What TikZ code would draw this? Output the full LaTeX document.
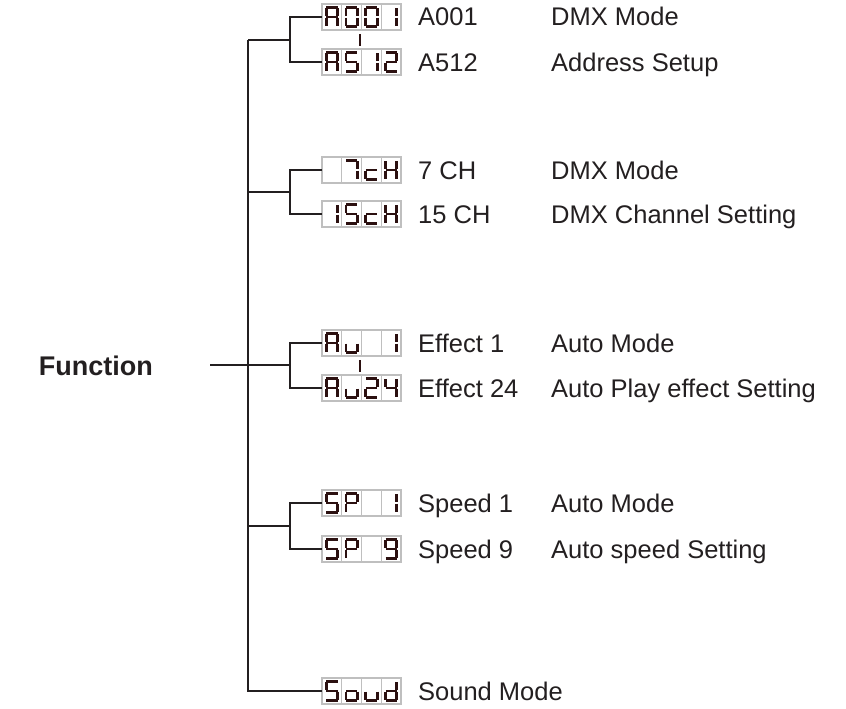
\documentclass[tikz,border=0pt]{standalone}
\usepackage{fontspec}
\setmainfont{Liberation Sans}
\definecolor{segc}{HTML}{2B1010}
\definecolor{txt}{HTML}{231F20}
\tikzset{
  conn/.style={draw=txt, line width=1.3pt},
  disp/.style={minimum width=79pt, minimum height=26pt, inner sep=0pt, outer sep=0pt},
  cellbox/.style={draw=black!25, line width=1.3pt},
  segline/.style={draw=segc, line width=2.9pt},
  lbl/.style={anchor=base west, font=\fontsize{25.5}{30}\selectfont, inner sep=0pt, text=txt},
}
\newcommand\sga{\draw[segline] (4.3,3.6)--(15.5,3.6);}
\newcommand\sgb{\draw[segline] (15.6,4.2)--(15.6,12.4);}
\newcommand\sgc{\draw[segline] (15.6,13.6)--(15.6,21.8);}
\newcommand\sgd{\draw[segline] (4.3,22.4)--(15.5,22.4);}
\newcommand\sge{\draw[segline] (4.2,13.6)--(4.2,21.8);}
\newcommand\sgf{\draw[segline] (4.2,4.2)--(4.2,12.4);}
\newcommand\sgg{\draw[segline] (4.3,13)--(15.5,13);}
\newcommand\sgz{}
\newcommand\dcell[2]{\begin{scope}[shift={(#1*19.75,0)}]
  \draw[cellbox] (0,0) rectangle (19.75,26);
  \foreach \s in {#2}{\csname sg\s\endcsname}
\end{scope}}
\newcommand\showdisp[5]{\begin{scope}[shift={(#1.north west)}]
  \dcell{0}{#2}\dcell{1}{#3}\dcell{2}{#4}\dcell{3}{#5}
\end{scope}}
\begin{document}
\begin{tikzpicture}[x=1pt,y=-1pt]
\useasboundingbox (0,0) rectangle (846,709);

% displays
\node[disp] (d1) at (361.5,17) {};
\node[disp] (d2) at (361.5,62) {};
\node[disp] (d3) at (361.5,170) {};
\node[disp] (d4) at (361.5,214) {};
\node[disp] (d5) at (361.5,343) {};
\node[disp] (d6) at (361.5,388) {};
\node[disp] (d7) at (361.5,503) {};
\node[disp] (d8) at (361.5,549) {};
\node[disp] (d9) at (361.5,691) {};

\showdisp{d1}{a,b,c,e,f,g}{a,b,c,d,e,f}{a,b,c,d,e,f}{b,c}
\showdisp{d2}{a,b,c,e,f,g}{a,f,g,c,d}{b,c}{a,b,g,e,d}
\showdisp{d3}{z}{a,b,c}{g,e,d}{b,c,e,f,g}
\showdisp{d4}{b,c}{a,f,g,c,d}{g,e,d}{b,c,e,f,g}
\showdisp{d5}{a,b,c,e,f,g}{c,d,e}{z}{b,c}
\showdisp{d6}{a,b,c,e,f,g}{c,d,e}{a,b,g,e,d}{b,c,f,g}
\showdisp{d7}{a,f,g,c,d}{a,b,e,f,g}{z}{b,c}
\showdisp{d8}{a,f,g,c,d}{a,b,e,f,g}{z}{a,b,c,d,f,g}
\showdisp{d9}{a,f,g,c,d}{c,d,e,g}{c,d,e}{b,c,d,e,g}

% ticks between displays
\draw[segline] (360,34) -- (360,46);
\draw[segline] (360,360) -- (360,372);

% function label
\node[anchor=base east, font=\bfseries\fontsize{27}{32}\selectfont, inner sep=0pt, text=txt] (fn) at (153,375) {Function};

% junctions
\coordinate (fs) at (210,365);
\coordinate (t1) at (248,40);
\coordinate (t2) at (248,192);
\coordinate (t4) at (248,526);
\coordinate (g1) at (290,40);
\coordinate (g2) at (290,192);
\coordinate (g3) at (290,365);
\coordinate (g4) at (290,526);

\draw[conn] (t1) |- (d9.west);
\draw[conn] (fs) -- (g3);
\draw[conn] (t1) -- (g1);
\draw[conn] (t2) -- (g2);
\draw[conn] (t4) -- (g4);
\draw[conn] (d1.west) -| (g1) |- (d2.west);
\draw[conn] (d3.west) -| (g2) |- (d4.west);
\draw[conn] (d5.west) -| (g3) |- (d6.west);
\draw[conn] (d7.west) -| (g4) |- (d8.west);

% labels
\node[lbl] (a1) at (418,26) {A001};
\node[lbl] (a2) at (418,71) {A512};
\node[lbl] (a3) at (418,179) {7 CH};
\node[lbl] (a4) at (418,223) {15 CH};
\node[lbl] (a5) at (418,352) {Effect 1};
\node[lbl] (a6) at (418,397) {Effect 24};
\node[lbl] (a7) at (418,512) {Speed 1};
\node[lbl] (a8) at (418,558) {Speed 9};
\node[lbl] (a9) at (418,700) {Sound Mode};

\node[lbl] (b1) at (551,26) {DMX Mode};
\node[lbl] (b2) at (551,71) {Address Setup};
\node[lbl] (b3) at (551,179) {DMX Mode};
\node[lbl] (b4) at (551,223) {DMX Channel Setting};
\node[lbl] (b5) at (551,352) {Auto Mode};
\node[lbl] (b6) at (551,397) {Auto Play effect Setting};
\node[lbl] (b7) at (551,512) {Auto Mode};
\node[lbl] (b8) at (551,558) {Auto speed Setting};
\end{tikzpicture}
\end{document}
